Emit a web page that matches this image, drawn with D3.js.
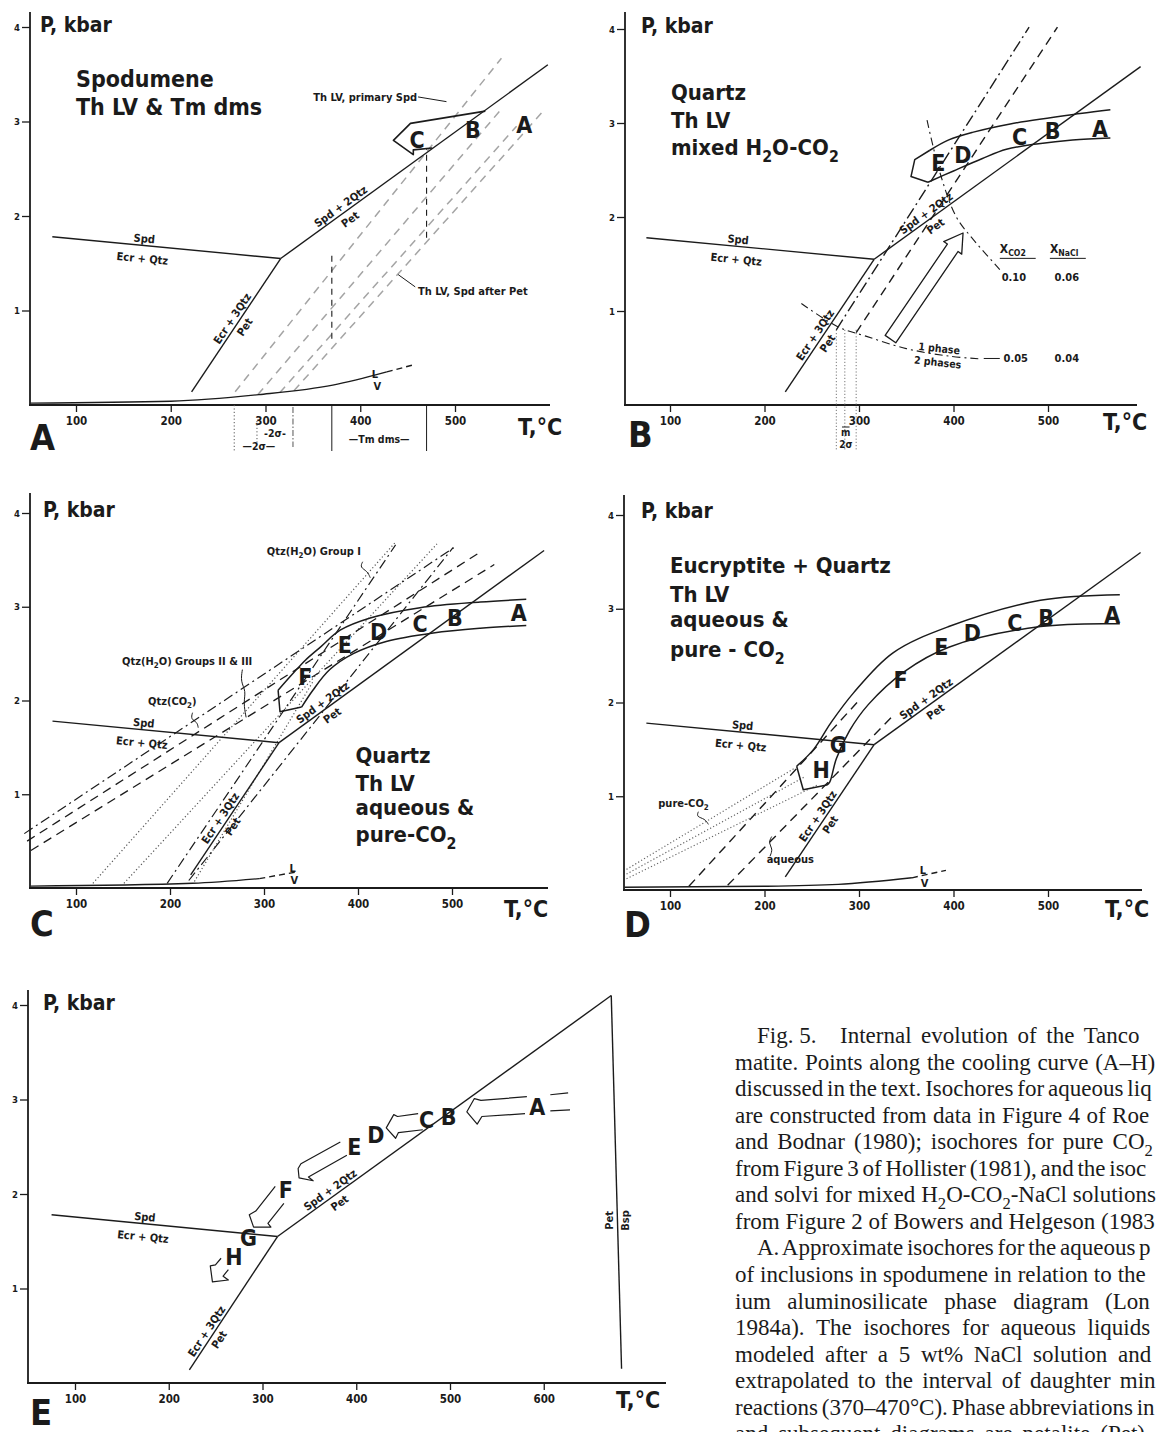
<!DOCTYPE html>
<html><head><meta charset="utf-8">
<script src="https://cdn.jsdelivr.net/npm/d3@7/dist/d3.min.js"></script>
<style>html,body{margin:0;padding:0;background:#fff}svg{display:block}</style>
</head><body>
<svg id="fig" width="1158" height="1432" xmlns="http://www.w3.org/2000/svg"></svg>
<script>
// ================= DATA (T in °C, P in kbar) =================
const tTicks = [100, 200, 300, 400, 500];
const tTicksE = [100, 200, 300, 400, 500, 600];
const pTicks = [1, 2, 3, 4];

// phase boundaries common to all panels
const spdEcrQtz = [[75, 1.78], [316, 1.55]];
const ecr3QtzPet = [[222, 0.14], [316, 1.55]];
const spd2QtzPet = [[316, 1.55], [598, 3.60]];
const spd2QtzPetE = [[316, 1.55], [672, 4.10]];
const petBsp = [[672, 4.10], [683, 0.15]];

// ---- Panel A ----
const lvA = [[52, 0.02], [200, 0.04], [293, 0.11], [371, 0.21], [428, 0.35]];
const lvAext = [[428, 0.35], [458, 0.43]];
const isoA = [
  [[268, 0.14], [549, 3.67]],
  [[292, 0.11], [548, 3.12]],
  [[315, 0.13], [565, 2.95]],
  [[330, 0.15], [594, 3.12]]
];
const tmDms = [370, 470];
const tmDmsP = [[0.70, 1.60], [1.77, 2.72]];
const sigmaA = [267, 291, 329];
const arrowA = [[532, 3.11], [453, 2.98], [435, 2.80], [456, 2.65], [456, 2.70], [476, 2.72]];
const ptsA = [["C", 460, 2.80], ["B", 519, 2.91], ["A", 573, 2.96]];

// ---- Panel B ----
const bandBUp = [[566, 3.14], [534, 3.10], [460, 2.99], [420, 2.90], [395, 2.82], [375, 2.71]];
const bandBLo = [[373, 2.37], [400, 2.49], [430, 2.62], [456, 2.72], [490, 2.78], [526, 2.82], [566, 2.84]];
const headB = [[375, 2.71], [359, 2.61], [355, 2.43], [373, 2.37]];
const isoBdd = [[276, 0.80], [480, 4.02]];
const isoBd = [[297, 0.77], [510, 4.02]];
const solvB10 = [[372, 3.03], [386, 2.46], [403, 2.00], [421, 1.76], [449, 1.44]];
const solvB05 = [[239, 1.08], [278, 0.83], [308, 0.73], [350, 0.60], [395, 0.52], [430, 0.49]];
const thB = [276, 285, 297];
const arrowB = [[327.7, 0.741], [393.5, 1.712], [389.6, 1.739], [410.1, 1.83], [408.7, 1.605], [404.8, 1.633], [338.9, 0.662]];
const ptsB = [["E", 384, 2.57], ["D", 410, 2.66], ["C", 470, 2.85], ["B", 505, 2.91], ["A", 555, 2.94]];
const xCO2 = ["0.10", "0.05"];
const xNaCl = ["0.06", "0.04"];

// ---- Panel C ----
const lvC = [[52, 0.02], [224, 0.05], [295, 0.10]];
const lvCext = [[295, 0.10], [334, 0.17]];
const bandCUp = [[579, 3.08], [530, 3.05], [466, 2.99], [413, 2.88], [381, 2.75], [360, 2.57], [344, 2.43], [331, 2.29], [315, 2.11]];
const headC = [[315, 2.11], [317, 1.88], [340, 1.93]];
const bandCLo = [[340, 1.93], [352, 2.11], [370, 2.33], [395, 2.50], [430, 2.63], [480, 2.72], [530, 2.77], [579, 2.80]];
const isoCdot = [[[118, 0.05], [440, 3.69]], [[151, 0.05], [484, 3.67]], [[226, 0.07], [352, 2.20]]];
const isoCdd = [[[197, 0.05], [440, 3.66]], [[220, 0.08], [501, 3.63]], [[45, 0.58], [505, 3.65]]];
const isoCdash = [[[48, 0.50], [528, 3.57]], [[52, 0.40], [545, 3.45]]];
const ptsC = [["F", 344, 2.25], ["E", 386, 2.59], ["D", 422, 2.73], ["C", 466, 2.82], ["B", 503, 2.88], ["A", 571, 2.93]];

// ---- Panel D ----
const lvD = [[52, 0.03], [200, 0.04], [278, 0.06], [356, 0.13]];
const lvDext = [[356, 0.13], [392, 0.21]];
const bandDUp = [[576, 3.15], [492, 3.09], [395, 2.81], [336, 2.53], [294, 2.10], [270, 1.78], [252, 1.50], [234, 1.32]];
const headD = [[234, 1.32], [241, 1.07], [266, 1.12]];
const bandDLo = [[266, 1.12], [269, 1.15], [276, 1.40], [290, 1.70], [310, 1.98], [348, 2.33], [395, 2.59], [492, 2.81], [576, 2.84]];
const isoDdot = [[[54, 0.22], [232, 1.30]], [[54, 0.17], [243, 1.21]], [[54, 0.12], [256, 1.12]]];
const isoDdash = [[[120, 0.04], [298, 2.00]], [[161, 0.05], [335, 1.85]]];
const ptsD = [["H", 260, 1.28], ["G", 278, 1.55], ["F", 344, 2.24], ["E", 387, 2.59], ["D", 420, 2.74], ["C", 465, 2.85], ["B", 498, 2.90], ["A", 568, 2.93]];

// ---- Panel E ----
const arrowsE = [
  [[582, 3.03], [533, 2.99], [526, 3.01], [518, 2.87], [529, 2.74], [534, 2.82], [580, 2.85]],
  [[466, 2.85], [444, 2.82], [440, 2.84], [432, 2.70], [442, 2.59], [445, 2.65], [471, 2.68]],
  [[383, 2.55], [341, 2.32], [338, 2.27], [339, 2.17], [354, 2.14], [349, 2.18], [390, 2.41]],
  [[313.6, 2.08], [292.8, 1.82], [285.9, 1.78], [290.5, 1.65], [309, 1.65], [305.8, 1.69], [322.8, 1.90]],
  [[255.8, 1.32], [249.8, 1.25], [244.3, 1.24], [246.6, 1.07], [263.6, 1.09], [258, 1.13], [263.6, 1.20]]
];
const arrowAextE = [[[607, 3.05], [626, 3.07]], [[607, 2.88], [628, 2.89]]];
const ptsE = [["A", 593, 2.92], ["B", 498.5, 2.82], ["C", 475, 2.78], ["D", 421, 2.62], ["E", 398, 2.50], ["F", 325, 2.04], ["G", 285, 1.53], ["H", 269.5, 1.33]];

// ---- Caption ----
const captionLines = [
  "Internal evolution of the Tanco peg-",
  "matite. Points along the cooling curve (A–H) are",
  "discussed in the text. Isochores for aqueous liquids",
  "are constructed from data in Figure 4 of Roedder",
  "and Bodnar (1980); isochores for pure CO{2} are",
  "from Figure 3 of Hollister (1981), and the isochores",
  "and solvi for mixed H{2}O-CO{2}-NaCl solutions are",
  "from Figure 2 of Bowers and Helgeson (1983).",
  "A. Approximate isochores for the aqueous phase",
  "of inclusions in spodumene in relation to the lith-",
  "ium aluminosilicate phase diagram (London,",
  "1984a). The isochores for aqueous liquids are",
  "modeled after a 5 wt% NaCl solution and are",
  "extrapolated to the interval of daughter mineral",
  "reactions (370–470°C). Phase abbreviations in this",
  "and subsequent diagrams are petalite (Pet), eu-"
];
const captionIndented = [0, 8];
const captionUnjustified = [7];

// ================= DRAWING =================
const SANS = "'DejaVu Sans Condensed','DejaVu Sans',sans-serif";
const SERIF = "'Liberation Serif','Times New Roman',serif";
const INK = "#1b1b1b";
const svg = d3.select('#fig');
svg.append('rect').attr('width', 1158).attr('height', 1432).attr('fill', '#fff');

const frames = {
  A: {ax: 30, yTop: 12, xEnd: 550, x100: 76, x500: 455, y0: 405, y4: 27, letter: "A", pk: [10, 5], tc: [-32, 30], lt: [0, 45]},
  B: {ax: 625, yTop: 12, xEnd: 1137, x100: 670, x500: 1048, y0: 405, y4: 29, letter: "B", pk: [16, 4], tc: [-34, 25], lt: [3, 42]},
  C: {ax: 30, yTop: 493, xEnd: 548, x100: 76, x500: 452, y0: 888, y4: 513, letter: "C", pk: [13, 4], tc: [-44, 29], lt: [0, 48]},
  D: {ax: 624, yTop: 495, xEnd: 1142, x100: 670, x500: 1048, y0: 890, y4: 515, letter: "D", pk: [17, 3], tc: [-37, 27], lt: [0, 47]},
  E: {ax: 28, yTop: 990, xEnd: 666, x100: 75, x500: 450, y0: 1383, y4: 1005, letter: "E", pk: [15, 5], tc: [-50, 25], lt: [2, 42]}
};

function txt(g, x, y, s, o = {}) {
  const fs = o.fs || 11;
  const t = g.append('text').attr('x', x).attr('y', y)
    .attr('font-family', o.ff || SANS).attr('font-weight', o.fw || 'bold')
    .attr('font-size', fs).attr('fill', o.fill || INK)
    .attr('text-anchor', o.anchor || 'start');
  if (o.db) t.attr('dominant-baseline', o.db);
  const re = /\{([^}]*)\}/g; let last = 0, m; const parts = [];
  while ((m = re.exec(s))) {
    if (m.index > last) parts.push([s.slice(last, m.index), false]);
    parts.push([m[1], true]); last = re.lastIndex;
  }
  if (last < s.length) parts.push([s.slice(last), false]);
  let cur = 0;
  parts.forEach(([p, isSub]) => {
    const sh = isSub ? fs * 0.3 : 0;
    t.append('tspan').attr('dy', sh - cur).attr('font-size', isSub ? fs * 0.72 : fs).text(p);
    cur = sh;
  });
  return t;
}

function panel(f, ticks) {
  const g = svg.append('g');
  const x = d3.scaleLinear().domain([100, 500]).range([f.x100, f.x500]);
  const y = d3.scaleLinear().domain([0, 4]).range([f.y0, f.y4]);
  g.append('line').attr('x1', f.ax).attr('y1', f.y0 + 1).attr('x2', f.ax).attr('y2', f.yTop).attr('stroke', INK).attr('stroke-width', 1.8);
  g.append('line').attr('x1', f.ax - 1).attr('y1', f.y0).attr('x2', f.xEnd).attr('y2', f.y0).attr('stroke', INK).attr('stroke-width', 1.8);
  const gx = g.append('g').attr('transform', `translate(0,${f.y0})`)
    .call(d3.axisBottom(x).tickValues(ticks).tickSize(7).tickSizeOuter(0).tickFormat(d3.format('d')));
  gx.select('.domain').remove();
  gx.selectAll('.tick line').attr('stroke', INK).attr('stroke-width', 1.3);
  gx.selectAll('.tick text').attr('font-family', SANS).attr('font-weight', 'bold').attr('font-size', 11.5).attr('fill', INK).attr('y', 12);
  const gy = g.append('g').attr('transform', `translate(${f.ax},0)`)
    .call(d3.axisLeft(y).tickValues(pTicks).tickSize(8).tickSizeOuter(0).tickFormat(d3.format('d')));
  gy.select('.domain').remove();
  gy.selectAll('.tick line').attr('stroke', INK).attr('stroke-width', 1.3);
  gy.selectAll('.tick text').attr('font-family', SANS).attr('font-weight', 'bold').attr('font-size', 9.5).attr('fill', INK).attr('x', -10);
  txt(g, f.ax + f.pk[0], f.y4 + f.pk[1], "P, kbar", {fs: 21});
  txt(g, f.xEnd + f.tc[0], f.y0 + f.tc[1], "T,°C", {fs: 23});
  txt(g, f.ax + f.lt[0], f.y0 + f.lt[1], f.letter, {fs: 36, fw: 900});
  return {g, x, y, f};
}

function path(P, pts, o = {}) {
  const gen = d3.line().x(d => P.x(d[0])).y(d => P.y(d[1])).curve(o.curve || d3.curveLinear);
  const p = P.g.append('path').attr('d', gen(pts) + (o.close ? 'Z' : '')).attr('fill', 'none')
    .attr('stroke', o.color || INK).attr('stroke-width', o.w || 1.4)
    .attr('stroke-linejoin', 'round').attr('stroke-linecap', o.cap || 'butt');
  if (o.dash) p.attr('stroke-dasharray', o.dash);
  return p;
}
const smooth = d3.curveCatmullRom.alpha(0.5);

function pt(P, s, T, p) { txt(P.g, P.x(T), P.y(p), s, {fs: 23, anchor: 'middle', db: 'central'}); }
function at(P, T, p, s, o = {}) { return txt(P.g, P.x(T), P.y(p), s, o); }

function lineLabel(P, seg, t, top, bot, o = {}) {
  const x1 = P.x(seg[0][0]), y1 = P.y(seg[0][1]), x2 = P.x(seg[1][0]), y2 = P.y(seg[1][1]);
  let a = Math.atan2(y2 - y1, x2 - x1) * 180 / Math.PI;
  if (a > 90) a -= 180; if (a < -90) a += 180;
  const cx = x1 + (x2 - x1) * t, cy = y1 + (y2 - y1) * t;
  const gg = P.g.append('g').attr('transform', `translate(${cx},${cy}) rotate(${a})`);
  const fs = o.fs || 11;
  if (top) txt(gg, o.dxTop || 0, -(o.gapTop || 3), top, {fs, anchor: 'middle'});
  if (bot) txt(gg, o.dxBot || 0, (o.gapBot || 12), bot, {fs, anchor: 'middle'});
}

function phase(P, upper) {
  path(P, spdEcrQtz); path(P, ecr3QtzPet); path(P, upper || spd2QtzPet);
}

// ---------- Panel A ----------
const A = panel(frames.A, tTicks);
isoA.forEach(s => path(A, s, {dash: "8,6", color: "#a4a4a4", w: 1.5}));
tmDms.forEach((t, i) => path(A, [[t, tmDmsP[i][0]], [t, tmDmsP[i][1]]], {dash: "6,5", w: 1.1}));
phase(A);
path(A, lvA, {curve: d3.curveMonotoneX}); path(A, lvAext, {dash: "6,4"});
path(A, arrowA, {w: 1.6});
ptsA.forEach(d => pt(A, ...d));
lineLabel(A, spdEcrQtz, 0.40, "Spd", "Ecr + Qtz", {gapTop: 3, gapBot: 17});
lineLabel(A, spd2QtzPet, 0.24, "Spd + 2Qtz", "Pet", {gapTop: 3, gapBot: 13});
lineLabel(A, ecr3QtzPet, 0.52, "Ecr + 3Qtz", "Pet", {gapTop: 3, gapBot: 12});
at(A, 415.5, 0.33, "L", {fs: 11, anchor: 'middle', db: 'central'});
at(A, 418, 0.20, "V", {fs: 11, anchor: 'middle', db: 'central'});
at(A, 100, 3.365, "Spodumene", {fs: 23});
at(A, 100, 3.07, "Th LV & Tm dms", {fs: 23});
at(A, 460, 3.22, "Th LV, primary Spd", {fs: 11, anchor: 'end'});
path(A, [[461, 3.26], [491, 3.21]], {w: 1});
at(A, 461, 1.16, "Th LV, Spd after Pet", {fs: 11});
path(A, [[458, 1.25], [440, 1.38]], {w: 1});
{
  const y0 = frames.A.y0, g = A.g;
  tmDms.forEach(t => g.append('line').attr('x1', A.x(t)).attr('x2', A.x(t)).attr('y1', y0).attr('y2', y0 + 46).attr('stroke', INK).attr('stroke-width', 1));
  txt(g, A.x(420), y0 + 38, "—Tm dms—", {fs: 10.5, anchor: 'middle'});
  const v = (t, a, b, dash) => g.append('line').attr('x1', A.x(t)).attr('x2', A.x(t)).attr('y1', y0 + a).attr('y2', y0 + b).attr('stroke', '#555').attr('stroke-width', 1).attr('stroke-dasharray', dash);
  v(sigmaA[0], 0, 47, "1.2,2.2"); v(sigmaA[1], 16, 38, "1.2,2.2"); v(sigmaA[2], 2, 42, "6,2,1.5,2");
  txt(g, A.x(310), y0 + 32, "-2σ-", {fs: 10.5, anchor: 'middle'});
  txt(g, A.x(293), y0 + 45, "—2σ—", {fs: 10.5, anchor: 'middle'});
}

// ---------- Panel B ----------
const B = panel(frames.B, tTicks);
{
  const y0 = frames.B.y0;
  thB.forEach(t => B.g.append('line').attr('x1', B.x(t)).attr('x2', B.x(t)).attr('y1', B.y(0.80)).attr('y2', y0 + 46).attr('stroke', '#777').attr('stroke-width', 1).attr('stroke-dasharray', "1.2,2"));
  txt(B.g, B.x(286), y0 + 31, "m", {fs: 10, anchor: 'middle'});
  B.g.append('line').attr('x1', B.x(282)).attr('x2', B.x(290)).attr('y1', y0 + 22).attr('y2', y0 + 22).attr('stroke', INK).attr('stroke-width', 1);
  txt(B.g, B.x(286), y0 + 43, "2σ", {fs: 10, anchor: 'middle'});
}
path(B, isoBdd, {dash: "12,4,2,4"});
path(B, isoBd, {dash: "9,6"});
path(B, solvB10, {dash: "8,4,2,4", curve: smooth, w: 1.1});
path(B, solvB05, {dash: "8,4,2,4", curve: smooth, w: 1.1});
phase(B);
path(B, bandBUp, {curve: smooth, w: 1.5});
path(B, bandBLo, {curve: smooth, w: 1.5});
path(B, headB, {w: 1.5});
path(B, arrowB, {close: true, w: 1.3});
ptsB.forEach(d => pt(B, ...d));
lineLabel(B, spdEcrQtz, 0.40, "Spd", "Ecr + Qtz", {gapTop: 3, gapBot: 17});
lineLabel(B, spd2QtzPet, 0.21, "Spd + 2Qtz", "Pet", {gapTop: 3, gapBot: 13});
lineLabel(B, ecr3QtzPet, 0.40, "Ecr + 3Qtz", "Pet", {gapTop: 3, gapBot: 12});
at(B, 101, 3.245, "Quartz", {fs: 22});
at(B, 101, 2.95, "Th LV", {fs: 22});
at(B, 101, 2.66, "mixed  H{2}O-CO{2}", {fs: 22});
at(B, 449, 1.62, "X{CO2}", {fs: 12});
at(B, 502, 1.62, "X{NaCl}", {fs: 12});
path(B, [[449, 1.56], [487, 1.56]], {w: 1});
path(B, [[502, 1.56], [540, 1.56]], {w: 1});
at(B, 451, 1.32, xCO2[0], {fs: 11}); at(B, 507, 1.32, xNaCl[0], {fs: 11});
at(B, 453, 0.46, xCO2[1], {fs: 11}); at(B, 507, 0.46, xNaCl[1], {fs: 11});
path(B, [[432, 0.495], [449, 0.495]], {w: 1});
{
  const gg = B.g.append('g').attr('transform', `translate(${B.x(384)},${B.y(0.52)}) rotate(6)`);
  txt(gg, 0, -4, "1 phase", {fs: 10.5, anchor: 'middle'});
  txt(gg, 0, 10, "2 phases", {fs: 10.5, anchor: 'middle'});
}

// ---------- Panel C ----------
const C = panel(frames.C, tTicks);
isoCdot.forEach(s => path(C, s, {dash: "1.2,2.4", color: "#555", w: 1.2}));
isoCdd.forEach(s => path(C, s, {dash: "10,4,2,4", w: 1.2}));
isoCdash.forEach(s => path(C, s, {dash: "9,6", w: 1.3}));
phase(C);
path(C, lvC, {curve: d3.curveMonotoneX}); path(C, lvCext, {dash: "6,4"});
path(C, bandCUp, {curve: smooth, w: 1.5});
path(C, headC, {w: 1.5});
path(C, bandCLo, {curve: smooth, w: 1.5});
ptsC.forEach(d => pt(C, ...d));
lineLabel(C, spdEcrQtz, 0.40, "Spd", "Ecr + Qtz", {gapTop: 3, gapBot: 17});
lineLabel(C, spd2QtzPet, 0.18, "Spd + 2Qtz", "Pet", {gapTop: 3, gapBot: 13});
lineLabel(C, ecr3QtzPet, 0.40, "Ecr + 3Qtz", "Pet", {gapTop: 3, gapBot: 12});
at(C, 330.4, 0.21, "L", {fs: 11, anchor: 'middle', db: 'central'});
at(C, 332.3, 0.09, "V", {fs: 11, anchor: 'middle', db: 'central'});
at(C, 303, 3.55, "Qtz(H{2}O) Group I", {fs: 11});
path(C, [[405, 3.48], [402, 3.42], [410, 3.38], [413, 3.31]], {w: 1, curve: d3.curveBasis});
at(C, 149, 2.38, "Qtz(H{2}O) Groups II & III", {fs: 11});
path(C, [[277, 2.33], [275, 2.20], [281, 2.10], [278, 1.98], [281, 1.82]], {w: 1, curve: d3.curveBasis});
at(C, 176.6, 1.95, "Qtz(CO{2})", {fs: 11});
path(C, [[224, 1.87], [222, 1.80], [229, 1.77], [230, 1.71]], {w: 1, curve: d3.curveBasis});
at(C, 397.4, 1.333, "Quartz", {fs: 22});
at(C, 397.4, 1.035, "Th LV", {fs: 22});
at(C, 397.4, 0.779, "aqueous &", {fs: 22});
at(C, 397.4, 0.49, "pure-CO{2}", {fs: 22});

// ---------- Panel D ----------
const D = panel(frames.D, tTicks);
isoDdot.forEach(s => path(D, s, {dash: "1.2,2.2", color: "#666", w: 1.2}));
isoDdash.forEach(s => path(D, s, {dash: "9,6", w: 1.4}));
phase(D);
path(D, lvD, {curve: d3.curveMonotoneX}); path(D, lvDext, {dash: "6,4"});
path(D, bandDUp, {curve: smooth, w: 1.5});
path(D, headD, {w: 1.5});
path(D, bandDLo, {curve: smooth, w: 1.5});
ptsD.forEach(d => pt(D, ...d));
lineLabel(D, spdEcrQtz, 0.42, "Spd", "Ecr + Qtz", {gapTop: 3, gapBot: 17});
lineLabel(D, spd2QtzPet, 0.21, "Spd + 2Qtz", "Pet", {gapTop: 3, gapBot: 13});
lineLabel(D, ecr3QtzPet, 0.43, "Ecr + 3Qtz", "Pet", {gapTop: 3, gapBot: 12});
at(D, 367.5, 0.213, "L", {fs: 11, anchor: 'middle', db: 'central'});
at(D, 369.4, 0.078, "V", {fs: 11, anchor: 'middle', db: 'central'});
at(D, 87.6, 0.885, "pure-CO{2}", {fs: 11});
path(D, [[130, 0.835], [128, 0.78], [137, 0.76], [140.6, 0.70]], {w: 1, curve: d3.curveBasis});
at(D, 202.3, 0.29, "aqueous", {fs: 11});
path(D, [[205.8, 0.36], [209, 0.44], [204, 0.50], [207.6, 0.57]], {w: 1, curve: d3.curveBasis});
at(D, 100, 3.38, "Eucryptite + Quartz", {fs: 22});
at(D, 100, 3.07, "Th LV", {fs: 22});
at(D, 100, 2.805, "aqueous &", {fs: 22});
at(D, 100, 2.485, "pure - CO{2}", {fs: 22});

// ---------- Panel E ----------
const E = panel(frames.E, tTicksE);
phase(E, spd2QtzPetE);
path(E, petBsp);
arrowsE.forEach(a => path(E, a, {w: 1.2}));
arrowAextE.forEach(a => path(E, a, {w: 1.2}));
ptsE.forEach(d => pt(E, ...d));
lineLabel(E, spdEcrQtz, 0.41, "Spd", "Ecr + Qtz", {gapTop: 3, gapBot: 17});
lineLabel(E, spd2QtzPetE, 0.17, "Spd + 2Qtz", "Pet", {gapTop: 3, gapBot: 13});
lineLabel(E, ecr3QtzPet, 0.26, "Ecr + 3Qtz", "Pet", {gapTop: 3, gapBot: 12});
{
  const gg = E.g.append('g').attr('transform', `translate(${E.x(678.6)},${E.y(1.72)}) rotate(-90)`);
  txt(gg, 0, -4, "Pet", {fs: 11, anchor: 'middle'});
  txt(gg, 0, 12, "Bsp", {fs: 11, anchor: 'middle'});
}

// ---------- Caption (justified column, clipped at the picture edge like the scan) ----------
{
  const left = 735, indent = 757, right = 1190, base = 1043, lh = 26.55, fs = 23, edgeX = 1157;
  const opts = {ff: SERIF, fw: 'normal', fs};
  const cg = svg.append('g');
  txt(cg, indent, base, "Fig. 5.", opts);
  captionLines.forEach((s, i) => {
    const x0 = i === 0 ? 840 : (captionIndented.includes(i) ? indent : left);
    const y = base + i * lh;
    let t = txt(cg, x0, y, s, opts);
    let ws = 0;
    if (!captionUnjustified.includes(i)) {
      const w = t.node().getComputedTextLength();
      const n = (s.match(/ /g) || []).length;
      if (n > 0) ws = Math.max(-2, (right - x0 - w) / n);
    }
    t.style('word-spacing', ws + 'px');
    let cur = s;
    const edge = () => { const b = t.node().getBBox(); return b.x + b.width; };
    while (edge() > edgeX && cur.length > 1) {
      cur = cur.replace(/\{[^}]*\}$|.$/, '').replace(/\s+$/, '');
      t.remove();
      t = txt(cg, x0, y, cur, opts);
      t.style('word-spacing', ws + 'px');
    }
  });
}
</script>
</body></html>
